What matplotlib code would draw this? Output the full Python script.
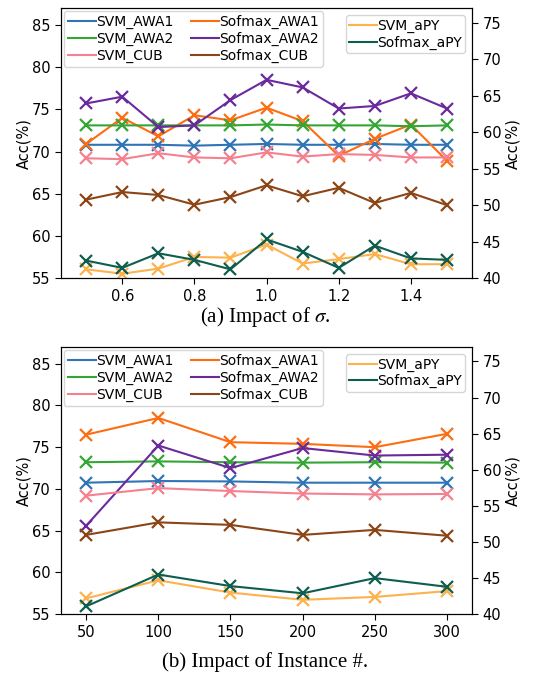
import matplotlib
matplotlib.use("Agg")
import matplotlib.pyplot as plt
from matplotlib.lines import Line2D

plt.rcParams['font.family'] = ['DejaVu Sans']
plt.rcParams['mathtext.fontset'] = 'stix'

# ---------------- data: (a) impact of sigma ----------------
sigma = [0.5, 0.6, 0.7, 0.8, 0.9, 1.0, 1.1, 1.2, 1.3, 1.4, 1.5]
a_svm_awa1 = [70.8, 70.8, 70.8, 70.7, 70.8, 70.9, 70.8, 70.8, 70.9, 70.8, 70.8]
a_sof_awa1 = [70.9, 74.0, 71.8, 74.3, 73.7, 75.2, 73.6, 69.5, 71.5, 73.2, 68.9]
a_svm_awa2 = [73.1, 73.1, 73.1, 73.1, 73.1, 73.2, 73.1, 73.1, 73.1, 73.0, 73.1]
a_sof_awa2 = [75.7, 76.5, 72.9, 73.1, 76.1, 78.5, 77.6, 75.1, 75.4, 76.9, 75.1]
a_svm_cub = [69.2, 69.1, 69.8, 69.3, 69.2, 69.9, 69.4, 69.7, 69.6, 69.3, 69.3]
a_sof_cub = [64.3, 65.2, 64.85, 63.7, 64.6, 66.0, 64.7, 65.7, 63.9, 65.1, 63.65]
a_svm_apy = [41.2, 40.6, 41.3, 42.9, 42.8, 44.6, 42.0, 42.6, 43.3, 41.9, 41.9]
a_sof_apy = [42.4, 41.4, 43.4, 42.5, 41.2, 45.3, 43.6, 41.4, 44.45, 42.7, 42.5]

# ---------------- data: (b) impact of instance # ----------------
inst = [50, 100, 150, 200, 250, 300]
b_svm_awa1 = [70.75, 70.95, 70.9, 70.75, 70.75, 70.75]
b_sof_awa1 = [76.5, 78.5, 75.6, 75.4, 75.0, 76.6]
b_svm_awa2 = [73.2, 73.3, 73.2, 73.15, 73.2, 73.15]
b_sof_awa2 = [65.6, 75.2, 72.5, 74.9, 74.0, 74.1]
b_svm_cub = [69.2, 70.1, 69.75, 69.45, 69.35, 69.4]
b_sof_cub = [64.5, 66.0, 65.7, 64.5, 65.1, 64.4]
b_svm_apy = [42.2, 44.7, 43.0, 42.0, 42.4, 43.2]
b_sof_apy = [41.1, 45.5, 43.9, 42.9, 45.0, 43.8]

labels_left = ['SVM_AWA1', 'Sofmax_AWA1', 'SVM_AWA2', 'Sofmax_AWA2', 'SVM_CUB', 'Sofmax_CUB']
labels_right = ['SVM_aPY', 'Sofmax_aPY']
colors_left = ['#2f74b5', '#fd6d12', '#35a535', '#6a2a9c', '#f5808f', '#8b4516']
colors_right = ['#fdb24e', '#0d5e4f']

fig = plt.figure(figsize=(5.44, 6.75), dpi=100)

def panel(rect, x, left_series, right_series, xticks, xticklabels, xlim, caption, cap_y):
    ax = fig.add_axes(rect)
    ax2 = ax.twinx()
    for ys, c, lab in zip(left_series, colors_left, labels_left):
        ax.plot(x, ys, color=c, lw=1.5, marker='x', ms=9, mew=1.6, label=lab)
    for ys, c, lab in zip(right_series, colors_right, labels_right):
        ax2.plot(x, ys, color=c, lw=1.5, marker='x', ms=9, mew=1.6, label=lab)
    ax.set_xlim(*xlim)
    ax.set_ylim(55, 87)
    ax2.set_ylim(40, 77)
    ax.set_yticks([55, 60, 65, 70, 75, 80, 85])
    ax2.set_yticks([40, 45, 50, 55, 60, 65, 70, 75])
    ax.set_xticks(xticks)
    ax.set_xticklabels(xticklabels)
    for a in (ax, ax2):
        a.tick_params(labelsize=10.5, length=4)
    ax.set_ylabel('Acc(%)', fontsize=10.5, labelpad=0)
    ax2.set_ylabel('Acc(%)', fontsize=10.5, rotation=90, labelpad=3)
    lh = [Line2D([], [], color=c, lw=1.5) for c in colors_left]
    rh = [Line2D([], [], color=c, lw=1.5) for c in colors_right]
    order = [0, 2, 4, 1, 3, 5]
    leg = ax2.legend([lh[i] for i in order], [labels_left[i] for i in order],
                     loc='upper left', ncol=2, fontsize=10, handlelength=2.0,
                     handletextpad=0.0, columnspacing=1.3, labelspacing=0.2,
                     borderaxespad=0.2, borderpad=0.3)
    ax2.add_artist(leg)
    ax2.legend(rh, labels_right, loc='upper right', fontsize=10, handlelength=2.0,
               handletextpad=0.0, labelspacing=0.2, borderaxespad=0.5, borderpad=0.25)
    fig.text(0.487, cap_y, caption, ha='center', va='center', fontsize=15,
             family='Liberation Serif')
    return ax, ax2

panel([0.112, 0.588, 0.756, 0.400], sigma,
      [a_svm_awa1, a_sof_awa1, a_svm_awa2, a_sof_awa2, a_svm_cub, a_sof_cub],
      [a_svm_apy, a_sof_apy],
      [0.6, 0.8, 1.0, 1.2, 1.4], ['0.6', '0.8', '1.0', '1.2', '1.4'],
      (0.43, 1.57), r'(a) Impact of $\sigma$.', 0.530)

panel([0.112, 0.090, 0.756, 0.396], inst,
      [b_svm_awa1, b_sof_awa1, b_svm_awa2, b_sof_awa2, b_svm_cub, b_sof_cub],
      [b_svm_apy, b_sof_apy],
      inst, [str(v) for v in inst],
      (32.5, 317.5), '(b) Impact of Instance #.', 0.019)

fig.savefig('out.png', dpi=100)
